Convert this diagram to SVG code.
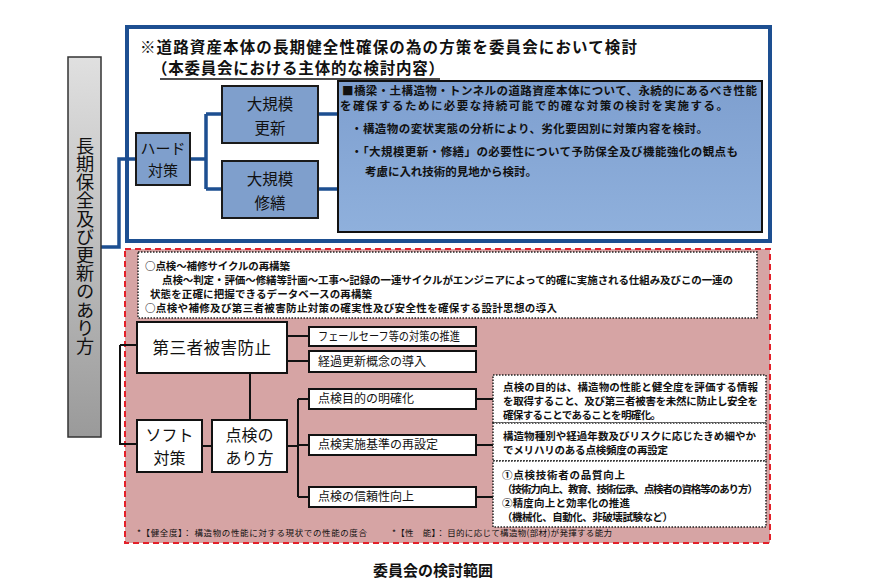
<svg xmlns="http://www.w3.org/2000/svg" width="880" height="586" viewBox="0 0 880 586">
<defs>
<linearGradient id="gray" x1="0" y1="0" x2="0" y2="1">
<stop offset="0" stop-color="#e0e0e0"/><stop offset="1" stop-color="#9a9a9a"/>
</linearGradient>
<linearGradient id="blueGrad" x1="0" y1="0" x2="0" y2="1">
<stop offset="0" stop-color="#7e9fcf"/><stop offset="1" stop-color="#8fb0dc"/>
</linearGradient>
<style>
text { font-family: "Noto Sans CJK JP", "Noto Sans CJK SC", sans-serif; fill: #111; }
.bold { font-weight: bold; }
.hbox { fill: #7f9fcc; stroke: #1a1a1a; stroke-width: 2; }
.wbox { fill: #ffffff; stroke: #111; stroke-width: 2; }
.dbox { fill: #ffffff; stroke: #222; stroke-width: 1.5; stroke-dasharray: 1.5 1.5; }
.blue { fill: none; stroke: #1d4f91; stroke-width: 3.5; }
.blk { fill: none; stroke: #111; stroke-width: 2; }
.mid { text-anchor: middle; }
.s { font-size: 10.5px; font-weight: bold; }
.m { font-size: 11.5px; font-weight: bold; }
.box12 { font-size: 12px; }
.big { font-size: 15.5px; }
</style>
</defs>
<rect width="880" height="586" fill="#ffffff"/>

<!-- containers -->
<g id="blue-frame">
<rect x="127" y="27" width="643" height="214" fill="#ffffff" stroke="#1d4f91" stroke-width="4"/>
<text x="140" y="53" class="bold" font-size="15.5" textLength="497">※道路資産本体の長期健全性確保の為の方策を委員会において検討</text>
<text x="152" y="74" class="bold" font-size="15.5" textLength="292">（本委員会における主体的な検討内容）</text>
<line x1="160" y1="79" x2="440" y2="79" stroke="#111" stroke-width="1.3"/>
</g>
<g id="red-frame">
<rect x="125" y="249" width="645" height="294" fill="#d6a4a4" stroke="#e3202a" stroke-width="2" stroke-dasharray="6 4"/>
<text x="137" y="536" font-size="8.5" textLength="230">*【健全度】： 構造物の性能に対する現状での性能の度合</text>
<text x="392" y="536" font-size="8.5" textLength="220">*【性　能】： 目的に応じて構造物(部材)が発揮する能力</text>
</g>

<!-- connectors -->
<g id="connectors">
<path class="blue" d="M101,247 H119 V159 H136"/>
<path class="blue" d="M190,159 H206 M206,114 V189 M206,114 H222 M206,189 H222"/>
<path class="blue" d="M318,114 H338 M318,189 H338"/>
<path class="blk" d="M120,345 V444 M120,345 H137 M119,444 H137"/>
<path class="blk" d="M202,446 H212 M250,373 V420"/>
<path class="blk" d="M287,336 H309 M287,361 H309"/>
<path class="blk" d="M287,446 H298 M298,399 V497 M298,399 H309 M298,445 H309 M298,497 H309"/>
<path class="blk" d="M476,399 H493 M476,445 H493 M476,497 H493"/>
</g>

<!-- nodes -->
<g id="node-main">
<rect x="68" y="57" width="33" height="380" fill="url(#gray)" stroke="#333" stroke-width="1.5"/>
<text x="85" y="246" font-size="18.2" class="mid" style="writing-mode: vertical-rl">長期保全及び更新のあり方</text>
</g>

<g id="node-hard">
<rect class="hbox" x="136" y="133" width="54" height="52"/>
<text x="163" y="154" class="mid" font-size="15">ハード</text>
<text x="163" y="176" class="mid" font-size="15">対策</text>
</g>
<g id="node-koshin">
<rect class="hbox" x="222" y="86" width="96" height="57"/>
<text x="270" y="110" class="mid big">大規模</text>
<text x="270" y="134" class="mid big">更新</text>
</g>
<g id="node-shuzen">
<rect class="hbox" x="222" y="161" width="96" height="57"/>
<text x="270" y="185" class="mid big">大規模</text>
<text x="270" y="209" class="mid big">修繕</text>
</g>
<g id="node-hard-desc">
<rect x="338" y="81" width="424" height="151" fill="url(#blueGrad)" stroke="#111" stroke-width="2"/>
<text x="342" y="95" class="m" textLength="415">■橋梁・土構造物・トンネルの道路資産本体について、永続的にあるべき性能</text>
<text x="340" y="110" class="m" textLength="388">を確保するために必要な持続可能で的確な対策の検討を実施する。</text>
<text x="351" y="133" class="m" textLength="357">・構造物の変状実態の分析により、劣化要因別に対策内容を検討。</text>
<text x="351" y="156" class="m" textLength="387">・「大規模更新・修繕」の必要性について予防保全及び機能強化の観点も</text>
<text x="365" y="176" class="m" textLength="172">考慮に入れ技術的見地から検討。</text>
</g>

<g id="node-soft-intro">
<rect class="dbox" x="138" y="252" width="619" height="66"/>
<text x="145" y="270" class="s" textLength="145">○点検～補修サイクルの再構築</text>
<text x="162" y="284" class="s" textLength="571">点検～判定・評価～修繕等計画～工事～記録の一連サイクルがエンジニアによって的確に実施される仕組み及びこの一連の</text>
<text x="150" y="298" class="s" textLength="222">状態を正確に把握できるデータベースの再構築</text>
<text x="145" y="312" class="s" textLength="412">○点検や補修及び第三者被害防止対策の確実性及び安全性を確保する設計思想の導入</text>
</g>

<g id="node-daisansha">
<rect class="wbox" x="137" y="322" width="150" height="51"/>
<text x="212" y="354" class="mid" font-size="16.5" letter-spacing="0.5">第三者被害防止</text>
</g>
<g id="node-failsafe">
<rect class="wbox" x="309" y="327" width="167" height="19"/>
<text x="318" y="341" class="box12" textLength="142" lengthAdjust="spacingAndGlyphs">フェールセーフ等の対策の推進</text>
</g>
<g id="node-keika">
<rect class="wbox" x="309" y="351" width="167" height="21"/>
<text x="318" y="366" class="box12">経過更新概念の導入</text>
</g>
<g id="node-soft">
<rect class="wbox" x="137" y="420" width="65" height="52"/>
<text x="169.5" y="441" class="mid" font-size="16">ソフト</text>
<text x="169.5" y="464" class="mid" font-size="16">対策</text>
</g>
<g id="node-tenken">
<rect class="wbox" x="212" y="420" width="75" height="52"/>
<text x="249.5" y="441" class="mid" font-size="16">点検の</text>
<text x="249.5" y="464" class="mid" font-size="16">あり方</text>
</g>
<g id="node-mokuteki">
<rect class="wbox" x="309" y="389" width="167" height="20"/>
<text x="318" y="403" class="box12">点検目的の明確化</text>
</g>
<g id="node-kijun">
<rect class="wbox" x="309" y="435" width="167" height="20"/>
<text x="318" y="449" class="box12">点検実施基準の再設定</text>
</g>
<g id="node-shinrai">
<rect class="wbox" x="309" y="487" width="167" height="20"/>
<text x="318" y="501" class="box12">点検の信頼性向上</text>
</g>
<g id="node-mokuteki-desc">
<rect class="dbox" x="493" y="375" width="273" height="48"/>
<text x="503" y="391" class="s" textLength="255">点検の目的は、構造物の性能と健全度を評価する情報</text>
<text x="503" y="405" class="s" textLength="255">を取得すること、及び第三者被害を未然に防止し安全を</text>
<text x="503" y="419" class="s" textLength="158">確保することであることを明確化。</text>
</g>
<g id="node-kijun-desc">
<rect class="dbox" x="493" y="423" width="273" height="38"/>
<text x="503" y="440" class="s" textLength="253">構造物種別や経過年数及びリスクに応じたきめ細やか</text>
<text x="503" y="454" class="s" textLength="165">でメリハリのある点検頻度の再設定</text>
</g>
<g id="node-shinrai-desc">
<rect class="dbox" x="493" y="461" width="273" height="66"/>
<text x="502" y="479" class="s" textLength="123">①点検技術者の品質向上</text>
<text x="502" y="493" class="s" textLength="256">（技術力向上、教育、技術伝承、点検者の資格等のあり方）</text>
<text x="502" y="507" class="s" textLength="128">②精度向上と効率化の推進</text>
<text x="502" y="521" class="s" textLength="171">（機械化、自動化、非破壊試験など）</text>
</g>

<text x="433" y="576" class="mid bold" font-size="15">委員会の検討範囲</text>
</svg>
